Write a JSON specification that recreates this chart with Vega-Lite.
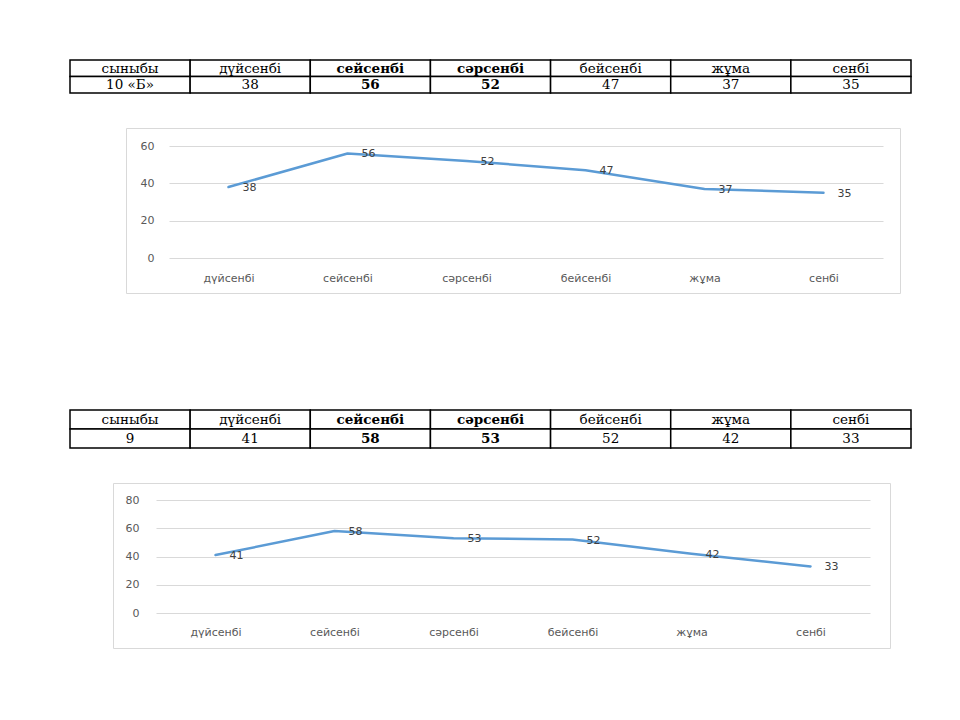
{
  "$schema": "https://vega.github.io/schema/vega-lite/v6.json",
  "background": "white",
  "padding": {"left": 69, "top": 59, "right": 0, "bottom": 0},
  "config": {"view": {"stroke": null}},
  "datasets": {
    "t10": [
      {"col": "сыныбы", "row": "h", "text": "сыныбы"},
      {"col": "дүйсенбі", "row": "h", "text": "дүйсенбі"},
      {"col": "сейсенбі", "row": "h", "text": "сейсенбі"},
      {"col": "сәрсенбі", "row": "h", "text": "сәрсенбі"},
      {"col": "бейсенбі", "row": "h", "text": "бейсенбі"},
      {"col": "жұма", "row": "h", "text": "жұма"},
      {"col": "сенбі", "row": "h", "text": "сенбі"},
      {"col": "сыныбы", "row": "v", "text": "10 «Б»"},
      {"col": "дүйсенбі", "row": "v", "text": "38"},
      {"col": "сейсенбі", "row": "v", "text": "56"},
      {"col": "сәрсенбі", "row": "v", "text": "52"},
      {"col": "бейсенбі", "row": "v", "text": "47"},
      {"col": "жұма", "row": "v", "text": "37"},
      {"col": "сенбі", "row": "v", "text": "35"}
    ],
    "c10": [
      {"day": "дүйсенбі", "value": 38},
      {"day": "сейсенбі", "value": 56},
      {"day": "сәрсенбі", "value": 52},
      {"day": "бейсенбі", "value": 47},
      {"day": "жұма", "value": 37},
      {"day": "сенбі", "value": 35}
    ],
    "t9": [
      {"col": "сыныбы", "row": "h", "text": "сыныбы"},
      {"col": "дүйсенбі", "row": "h", "text": "дүйсенбі"},
      {"col": "сейсенбі", "row": "h", "text": "сейсенбі"},
      {"col": "сәрсенбі", "row": "h", "text": "сәрсенбі"},
      {"col": "бейсенбі", "row": "h", "text": "бейсенбі"},
      {"col": "жұма", "row": "h", "text": "жұма"},
      {"col": "сенбі", "row": "h", "text": "сенбі"},
      {"col": "сыныбы", "row": "v", "text": "9"},
      {"col": "дүйсенбі", "row": "v", "text": "41"},
      {"col": "сейсенбі", "row": "v", "text": "58"},
      {"col": "сәрсенбі", "row": "v", "text": "53"},
      {"col": "бейсенбі", "row": "v", "text": "52"},
      {"col": "жұма", "row": "v", "text": "42"},
      {"col": "сенбі", "row": "v", "text": "33"}
    ],
    "c9": [
      {"day": "дүйсенбі", "value": 41},
      {"day": "сейсенбі", "value": 58},
      {"day": "сәрсенбі", "value": 53},
      {"day": "бейсенбі", "value": 52},
      {"day": "жұма", "value": 42},
      {"day": "сенбі", "value": 33}
    ]
  },
  "spacing": 115,
  "vconcat": [
    {
      "spacing": 33,
      "vconcat": [
        {
          "width": 841, "height": 33,
          "data": {"name": "t10"},
          "encoding": {
            "x": {"field": "col", "type": "nominal", "sort": null, "scale": {"paddingInner": 0, "paddingOuter": 0}, "axis": null},
            "y": {"field": "row", "type": "nominal", "sort": null, "scale": {"paddingInner": 0, "paddingOuter": 0}, "axis": null}
          },
          "layer": [
            {"mark": {"type": "rect", "fill": "white", "stroke": "black", "strokeWidth": 1.5}},
            {"transform": [{"filter": "datum.col !== 'сейсенбі' && datum.col !== 'сәрсенбі'"}],
             "mark": {"type": "text", "font": "DejaVu Serif", "fontSize": 13.5, "baseline": "middle", "color": "black", "dy": 0.5},
             "encoding": {"text": {"field": "text"}}},
            {"transform": [{"filter": "datum.col === 'сейсенбі' || datum.col === 'сәрсенбі'"}],
             "mark": {"type": "text", "font": "DejaVu Serif", "fontSize": 13.5, "fontWeight": "bold", "baseline": "middle", "color": "black", "dy": 0.5},
             "encoding": {"text": {"field": "text"}}}
          ]
        },
        {
          "spacing": 0,
          "hconcat": [
            {"width": 55, "height": 10, "data": {"values": []}, "mark": "point"},
            {
              "width": 774, "height": 165,
              "view": {"stroke": "#d9d9d9", "strokeWidth": 1},
              "data": {"name": "c10"},
              "encoding": {
                "x": {"field": "day", "type": "nominal", "sort": null,
                  "scale": {"type": "point", "range": [43, 757], "padding": 0.5},
                  "axis": {"title": null, "orient": "bottom", "offset": -15, "labelBaseline": "middle", "labelPadding": 0, "ticks": false, "tickSize": 0, "domain": false, "grid": false, "labelAngle": 0, "labelFont": "DejaVu Sans", "labelFontSize": 11, "labelColor": "#595959"}},
                "y": {"field": "value", "type": "quantitative",
                  "scale": {"domain": [0, 60], "range": [130, 18], "nice": false},
                  "axis": {"title": null, "values": [0, 20, 40, 60], "offset": -28, "labelPadding": 0, "ticks": false, "tickSize": 0, "domain": false, "grid": true, "gridColor": "#d9d9d9", "gridWidth": 1, "labelFont": "DejaVu Sans", "labelFontSize": 11, "labelColor": "#595959"}}
              },
              "layer": [
                {"mark": {"type": "line", "color": "#5b9bd5", "strokeWidth": 2.5, "strokeCap": "round", "strokeJoin": "round"}},
                {"mark": {"type": "text", "align": "left", "baseline": "middle", "dx": 14, "dy": 1, "font": "DejaVu Sans", "fontSize": 11, "color": "#404040"},
                 "encoding": {"text": {"field": "value", "type": "quantitative"}}}
              ]
            }
          ]
        }
      ]
    },
    {
      "spacing": 33,
      "vconcat": [
        {
          "width": 841, "height": 38,
          "data": {"name": "t9"},
          "encoding": {
            "x": {"field": "col", "type": "nominal", "sort": null, "scale": {"paddingInner": 0, "paddingOuter": 0}, "axis": null},
            "y": {"field": "row", "type": "nominal", "sort": null, "scale": {"paddingInner": 0, "paddingOuter": 0}, "axis": null}
          },
          "layer": [
            {"mark": {"type": "rect", "fill": "white", "stroke": "black", "strokeWidth": 1.5}},
            {"transform": [{"filter": "datum.col !== 'сейсенбі' && datum.col !== 'сәрсенбі'"}],
             "mark": {"type": "text", "font": "DejaVu Serif", "fontSize": 13.5, "baseline": "middle", "color": "black", "dy": 0.5},
             "encoding": {"text": {"field": "text"}}},
            {"transform": [{"filter": "datum.col === 'сейсенбі' || datum.col === 'сәрсенбі'"}],
             "mark": {"type": "text", "font": "DejaVu Serif", "fontSize": 13.5, "fontWeight": "bold", "baseline": "middle", "color": "black", "dy": 0.5},
             "encoding": {"text": {"field": "text"}}}
          ]
        },
        {
          "spacing": 0,
          "hconcat": [
            {"width": 42, "height": 10, "data": {"values": []}, "mark": "point"},
            {
              "width": 777, "height": 165,
              "view": {"stroke": "#d9d9d9", "strokeWidth": 1},
              "data": {"name": "c9"},
              "encoding": {
                "x": {"field": "day", "type": "nominal", "sort": null,
                  "scale": {"type": "point", "range": [43, 757], "padding": 0.5},
                  "axis": {"title": null, "orient": "bottom", "offset": -16, "labelBaseline": "middle", "labelPadding": 0, "ticks": false, "tickSize": 0, "domain": false, "grid": false, "labelAngle": 0, "labelFont": "DejaVu Sans", "labelFontSize": 11, "labelColor": "#595959"}},
                "y": {"field": "value", "type": "quantitative",
                  "scale": {"domain": [0, 80], "range": [130, 17], "nice": false},
                  "axis": {"title": null, "values": [0, 20, 40, 60, 80], "offset": -26, "labelPadding": 0, "ticks": false, "tickSize": 0, "domain": false, "grid": true, "gridColor": "#d9d9d9", "gridWidth": 1, "labelFont": "DejaVu Sans", "labelFontSize": 11, "labelColor": "#595959"}}
              },
              "layer": [
                {"mark": {"type": "line", "color": "#5b9bd5", "strokeWidth": 2.5, "strokeCap": "round", "strokeJoin": "round"}},
                {"mark": {"type": "text", "align": "left", "baseline": "middle", "dx": 14, "dy": 1, "font": "DejaVu Sans", "fontSize": 11, "color": "#404040"},
                 "encoding": {"text": {"field": "value", "type": "quantitative"}}}
              ]
            }
          ]
        }
      ]
    }
  ]
}
